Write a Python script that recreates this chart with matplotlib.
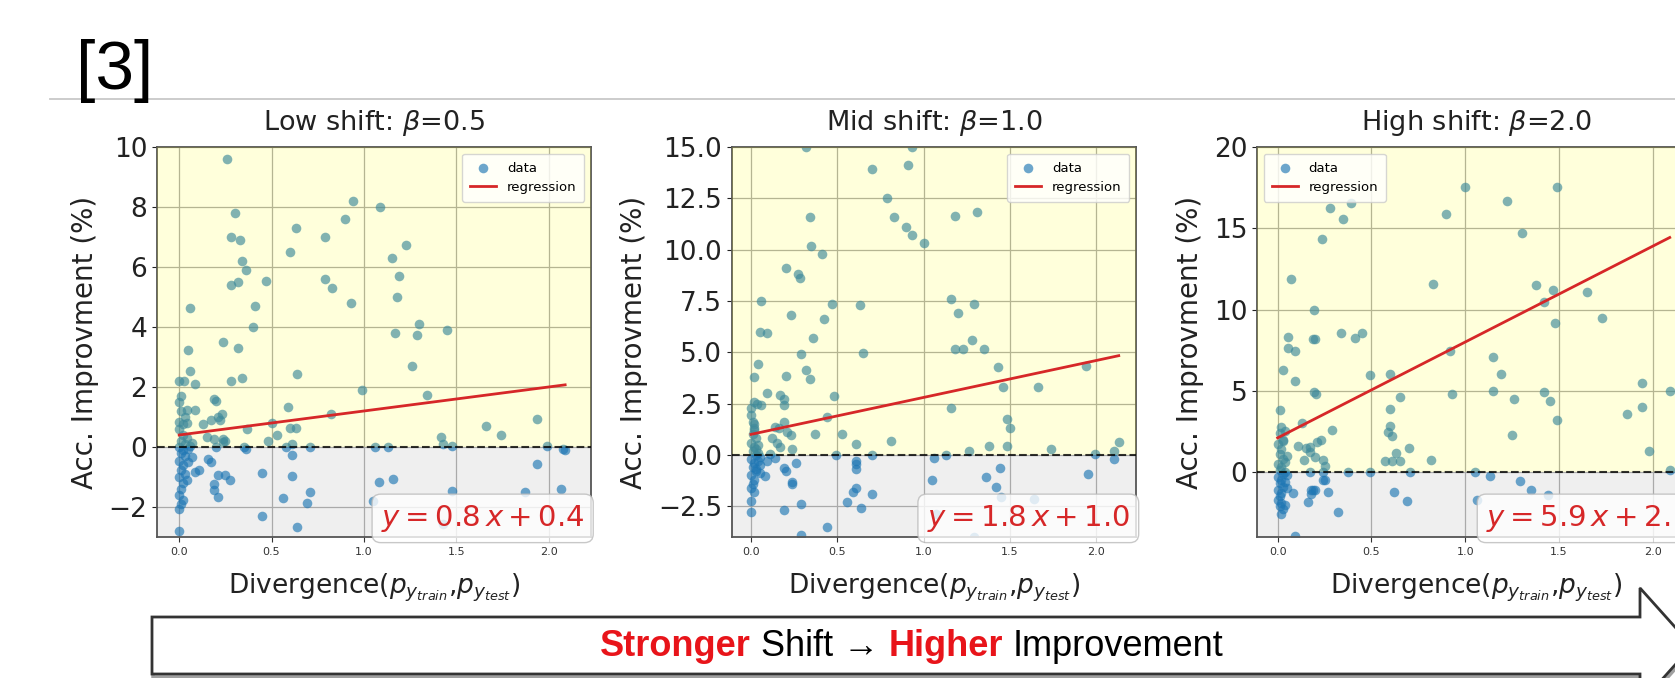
import numpy as np
import matplotlib

matplotlib.use("Agg")
import matplotlib.pyplot as plt
from matplotlib.lines import Line2D
from matplotlib.patches import Polygon
from matplotlib.offsetbox import TextArea, HPacker, AnnotationBbox

W, H = 1675, 678
RED = "#d62728"
BLUE = "#1f77b4"

titles = [r"Low shift: $\beta$=0.5", r"Mid shift: $\beta$=1.0", r"High shift: $\beta$=2.0"]
slopes = [0.8, 1.8, 5.9]
intercepts = [0.4, 1.0, 2.1]
y_limits = [(-3, 10), (-4, 15), (-4, 20)]
y_ticks = [
    [-2, 0, 2, 4, 6, 8, 10],
    [-2.5, 0.0, 2.5, 5.0, 7.5, 10.0, 12.5, 15.0],
    [0, 5, 10, 15, 20],
]
x_ticks = [0.0, 0.5, 1.0, 1.5, 2.0]

# divergence, accuracy improvement (%)
low_points = np.array([
    (0.26, 9.6), (0.30, 7.8), (0.28, 7.0), (0.33, 6.9), (0.34, 6.2), (0.36, 5.9), (0.28, 5.4),
    (0.32, 5.5), (0.47, 5.55), (0.41, 4.7), (0.40, 4.0), (0.06, 4.65), (0.24, 3.5), (0.32, 3.3),
    (0.05, 3.25), (0.06, 2.55), (0.00, 2.2), (0.025, 2.2), (0.085, 2.1), (0.28, 2.2), (0.34, 2.3),
    (0.60, 6.5), (0.63, 7.3), (0.79, 7.0), (0.79, 5.6), (0.83, 5.3), (0.90, 7.6), (0.94, 8.2),
    (0.93, 4.8), (1.09, 8.0), (1.15, 6.3), (1.19, 5.7), (1.23, 6.75), (1.18, 5.0), (1.17, 3.8),
    (1.30, 4.1), (1.29, 3.75), (1.26, 2.7), (1.45, 3.9), (1.34, 1.75),
    (0.64, 2.45), (0.99, 1.9), (0.82, 1.1), (0.59, 1.35), (0.63, 0.65), (0.60, 0.65), (0.50, 0.8),
    (0.53, 0.4), (0.48, 0.2), (0.37, 0.6), (0.35, 0.0), (0.61, 0.1), (0.61, -0.25), (0.71, 0.0),
    (1.06, 0.0), (1.13, 0.0), (1.42, 0.35), (1.43, 0.1), (1.48, 0.05), (1.66, 0.7), (1.74, 0.4),
    (1.94, 0.95), (1.99, 0.05), (2.09, -0.1), (2.08, -0.05), (1.94, -0.55),
    (2.07, -1.4), (1.87, -1.5), (1.48, -1.45), (1.43, -2.55), (1.05, -1.8), (1.08, -1.15),
    (1.16, -1.05), (0.45, -0.85), (0.61, -0.95), (0.56, -1.7), (0.71, -1.5), (0.69, -1.85),
    (0.45, -2.3), (0.64, -2.65), (0.00, -2.8),
    (0.19, 1.6), (0.20, 1.53), (0.00, 1.5), (0.04, 1.22), (0.085, 1.22), (0.00, 0.83), (0.02, 0.78),
    (0.13, 0.78), (0.175, 0.9), (0.21, 1.0), (0.23, 1.1), (0.15, 0.33), (0.19, 0.28), (0.24, 0.28),
    (0.20, 0.0), (0.24, 0.17), (0.067, -0.33), (0.157, -0.39), (0.175, -0.5), (0.085, -0.83),
    (0.11, -0.78), (0.21, -0.94), (0.25, -0.94), (0.275, -1.1), (0.19, -1.22), (0.19, -1.44),
    (0.21, -1.67), (0.36, -0.05), (0.58, 0.0), (0.22, 0.9), (0.25, 0.2),
    (0.01, 1.7), (0.03, 1.0), (0.00, 0.6), (0.02, 0.4), (0.01, 0.2), (0.03, 0.1), (0.00, 0.0),
    (0.02, -0.1), (0.01, -0.2), (0.03, -0.3), (0.00, -0.45), (0.02, -0.6), (0.01, -0.75),
    (0.03, -0.9), (0.00, -1.0), (0.02, -1.2), (0.01, -1.4), (0.00, -1.6), (0.02, -1.75),
    (0.01, -1.9), (0.00, -2.05), (0.04, 0.3), (0.05, -0.5), (0.04, 0.8), (0.01, 1.2), (0.04, -1.1),
    (0.05, -0.05), (0.06, 0.05), (0.07, 0.15),
])

mid_points = np.array([
    (0.32, 15.0), (0.93, 15.0), (0.70, 13.95), (0.91, 14.1), (0.79, 12.5), (0.83, 11.6),
    (0.90, 11.1), (0.93, 10.7), (1.00, 10.3), (1.18, 11.65), (1.31, 11.85), (0.34, 11.6),
    (0.35, 10.2), (0.41, 9.8), (0.20, 9.1), (0.275, 8.8), (0.285, 8.6), (0.06, 7.5), (0.47, 7.35),
    (0.63, 7.3), (0.23, 6.8), (0.42, 6.6), (0.05, 6.0), (0.09, 5.95), (0.36, 5.7), (0.29, 4.9),
    (0.65, 4.95), (0.04, 4.45), (0.32, 4.15), (0.34, 3.7), (0.02, 3.8), (0.20, 3.85), (0.09, 3.0),
    (0.48, 2.85),
    (1.16, 7.6), (1.29, 7.35), (1.20, 6.9), (1.28, 5.6), (1.18, 5.15), (1.23, 5.15), (1.35, 5.15),
    (1.43, 4.3), (1.46, 3.3), (1.66, 3.3), (1.94, 4.35), (1.16, 2.3), (1.48, 1.75), (1.50, 1.3),
    (1.48, 0.45), (1.38, 0.42), (1.26, 0.2), (1.74, 0.3), (2.13, 0.62), (2.10, 0.2), (1.99, 0.05),
    (2.10, -0.2), (1.13, 0.0), (1.06, -0.15), (1.05, -1.2), (1.36, -1.1), (1.44, -0.65),
    (1.42, -1.55), (1.45, -2.05), (1.95, -0.95), (1.64, -2.15), (1.07, -2.9), (1.29, -4.0),
    (0.37, 1.0), (0.53, 1.0), (0.44, 1.85), (0.81, 0.7), (0.61, 0.55), (0.49, 0.0), (0.70, 0.0),
    (0.61, -0.3), (0.61, -0.45), (0.61, -0.7), (0.70, -1.9), (0.61, -1.6), (0.59, -1.8),
    (0.555, -2.3), (0.64, -2.6), (0.29, -2.4), (0.44, -3.5), (0.29, -3.9), (0.19, -2.7),
    (0.00, -2.8), (0.00, -2.25), (0.24, -1.3),
    (0.17, 2.9), (0.19, 2.7), (0.19, 2.45), (0.015, 2.6), (0.035, 2.5), (0.06, 2.45), (0.00, 2.3),
    (0.00, 1.95), (0.015, 1.5), (0.02, 1.2), (0.19, 1.6), (0.14, 1.35), (0.16, 1.3), (0.21, 1.1),
    (0.23, 0.95), (0.12, 0.8), (0.15, 0.6), (0.17, 0.37), (0.24, 0.28), (0.26, -0.38),
    (0.19, -0.63), (0.20, -0.8), (0.083, -1.05), (0.24, -1.4), (0.09, -0.3), (0.11, 0.03),
    (0.14, -0.13),
    (0.01, 1.0), (0.03, 0.8), (0.00, 0.6), (0.02, 0.4), (0.01, 0.2), (0.03, 0.0), (0.00, -0.2),
    (0.02, -0.4), (0.01, -0.6), (0.03, -0.8), (0.00, -1.0), (0.02, -1.2), (0.01, -1.4),
    (0.00, -1.6), (0.02, -1.8), (0.04, 0.1), (0.05, -0.1), (0.04, -0.3), (0.05, -0.5), (0.03, 0.3),
    (0.04, 0.5), (0.03, -0.7), (0.05, -0.9), (0.02, 1.3), (0.01, 1.6),
])

high_points = np.array([
    (0.07, 11.85), (0.027, 6.25), (0.054, 8.3), (0.057, 7.65), (0.093, 7.45), (0.095, 5.6),
    (0.014, 3.8), (0.196, 9.95), (0.19, 8.2), (0.20, 8.2), (0.196, 4.95), (0.205, 4.8),
    (0.236, 14.35), (0.28, 16.25), (0.35, 15.55), (0.39, 16.55), (0.34, 8.55), (0.41, 8.25),
    (0.45, 8.55), (0.49, 6.0), (0.60, 6.05), (0.65, 4.6), (0.60, 3.85), (0.60, 2.85), (0.59, 2.45),
    (0.61, 2.2), (0.29, 2.6), (0.13, 3.0), (0.70, 1.45), (0.63, 1.15), (0.65, 0.65), (0.61, 0.7),
    (0.57, 0.7), (0.82, 0.75),
    (0.83, 11.55), (0.90, 15.85), (1.00, 17.55), (0.92, 7.45), (0.93, 4.8), (1.15, 7.1),
    (1.19, 6.05), (1.15, 5.0), (1.25, 2.25), (1.26, 4.5), (1.22, 16.65), (1.30, 14.7),
    (1.375, 11.5), (1.42, 10.45), (1.47, 11.2), (1.48, 9.2), (1.42, 4.9), (1.45, 4.4),
    (1.49, 17.55), (1.49, 3.2), (1.65, 11.05), (1.73, 9.45), (1.86, 3.6), (1.94, 5.45),
    (1.94, 4.0), (1.98, 1.3), (2.09, 5.0), (2.09, 0.1),
    (0.49, 0.0), (0.375, 0.0), (0.705, 0.0), (1.05, 0.0), (1.13, -0.27), (1.29, -0.57),
    (1.35, -1.1), (1.44, -1.4), (1.06, -1.75), (0.62, -1.2), (0.69, -1.8), (0.32, -2.45),
    (0.09, -3.95), (0.27, -1.23), (0.16, -1.85), (0.08, -1.3), (0.18, -1.1), (0.20, -1.1),
    (0.24, -0.47),
    (0.02, 2.8), (0.04, 2.55), (0.11, 1.6), (0.15, 1.45), (0.17, 1.55), (0.21, 1.85), (0.23, 1.95),
    (0.14, 0.72), (0.17, 1.23), (0.24, 0.72), (0.25, 0.4), (0.20, 0.9), (0.17, 0.0), (0.24, 0.0),
    (0.25, -0.5), (0.19, -1.13), (0.18, -1.33),
    (0.01, 2.4), (0.03, 2.0), (0.00, 1.7), (0.02, 1.4), (0.01, 1.1), (0.03, 0.8), (0.00, 0.5),
    (0.02, 0.3), (0.01, 0.1), (0.03, -0.1), (0.00, -0.3), (0.02, -0.5), (0.01, -0.7),
    (0.03, -0.9), (0.00, -1.1), (0.02, -1.3), (0.01, -1.5), (0.00, -1.7), (0.02, -1.9),
    (0.01, -2.1), (0.03, -2.3), (0.02, -2.6), (0.04, 0.0), (0.05, -0.2), (0.04, 0.6), (0.05, 1.0),
    (0.04, -0.6), (0.05, -1.0), (0.03, 1.9), (0.04, -2.0),
])

panels = [low_points, mid_points, high_points]

# axes boxes in pixels: left, right (top/bottom shared)
boxes_px = [(157, 591), (732, 1136), (1257, 1696)]
x_limits = [(-0.12, 2.23), (-0.11, 2.23), (-0.11, 2.23)]
legend_locs = ["upper right", "upper right", "upper left"]
TOP, BOTTOM = 147, 537

fig = plt.figure(figsize=(W / 100, H / 100), dpi=100)
fig.patch.set_facecolor("white")

for i, pts in enumerate(panels):
    l, r = boxes_px[i]
    ax = fig.add_axes([l / W, 1 - BOTTOM / H, (r - l) / W, (BOTTOM - TOP) / H])
    ax.set_xlim(*x_limits[i])
    ax.set_ylim(*y_limits[i])
    ymin, ymax = y_limits[i]

    ax.axhspan(ymin, 0, color="gray", alpha=0.12, lw=0, zorder=0.5)
    ax.scatter(pts[:, 0], pts[:, 1], s=48, color=BLUE, alpha=0.65, lw=0, zorder=2, label="data")
    ax.axhspan(0, ymax, color="yellow", alpha=0.14, lw=0, zorder=3)

    xs = np.array([pts[:, 0].min(), pts[:, 0].max()])
    ax.plot(xs, slopes[i] * xs + intercepts[i], color=RED, lw=2, zorder=4, label="regression")
    ax.axhline(0, color="black", ls="--", lw=1.5, alpha=0.8, zorder=4)

    ax.set_xticks(x_ticks)
    ax.set_yticks(y_ticks[i])
    ax.grid(True, color="#aaaaaa", lw=0.9)
    ax.tick_params(axis="x", labelsize=8, colors="#333333")
    ax.tick_params(axis="y", labelsize=19, colors="#222222")
    for s in ax.spines.values():
        s.set_color("#555555")
        s.set_linewidth(1.3)

    ax.set_title(titles[i], fontsize=19.5, pad=12, color="#222222")
    ax.set_ylabel("Acc. Improvment (%)", fontsize=20, labelpad=7, color="#222222")
    ax.set_xlabel(r"Divergence($p_{y_{train}}$,$p_{y_{test}}$)", fontsize=19, labelpad=11,
                  color="#222222")

    leg = ax.legend(loc=legend_locs[i], fontsize=9.5, framealpha=0.8, borderpad=0.6)
    leg.set_zorder(6)

    ax.text(0.985, 0.008, rf"$y = {slopes[i]}\,x + {intercepts[i]}$", transform=ax.transAxes,
            ha="right", va="bottom", fontsize=21, color=RED, zorder=7,
            bbox=dict(boxstyle="round,pad=0.3", fc="white", ec="#bbbbbb", alpha=0.8))

# slide decorations
fig.add_artist(Line2D([50 / W, 1.0], [1 - 99 / H] * 2, transform=fig.transFigure,
                      color="#c8c8c8", lw=1.3))
fig.text(76 / W, 1 - 71 / H, "[3]", fontsize=50, family="Liberation Sans", va="center",
         ha="left", color="black")

arrow_px = [(152, 617), (1640, 617), (1640, 588), (1692, 646), (1640, 704), (1640, 674), (152, 674)]
shadow = Polygon([((x + 1) / W, 1 - (y + 3) / H) for x, y in arrow_px], closed=True,
                 transform=fig.transFigure, fc="none", ec="#a0a0a0", lw=2.5)
arrow = Polygon([(x / W, 1 - y / H) for x, y in arrow_px], closed=True,
                transform=fig.transFigure, fc="white", ec="#333333", lw=2)
fig.add_artist(shadow)
fig.add_artist(arrow)

fam = ["Liberation Sans", "DejaVu Sans"]
pieces = [("Stronger", "#e8141a", "bold"), ("Shift \u2192", "black", "normal"),
          ("Higher", "#e8141a", "bold"), ("Improvement", "black", "normal")]
areas = [TextArea(t, textprops=dict(color=c, fontweight=w, fontsize=26, family=fam))
         for t, c, w in pieces]
packed = HPacker(children=areas, align="baseline", pad=0, sep=7)
ab = AnnotationBbox(packed, (912 / W, 1 - 646 / H), xycoords="figure fraction",
                    frameon=False, box_alignment=(0.5, 0.5))
ab.set_zorder(10)
fig.add_artist(ab)

fig.savefig("out.png", dpi=100)
